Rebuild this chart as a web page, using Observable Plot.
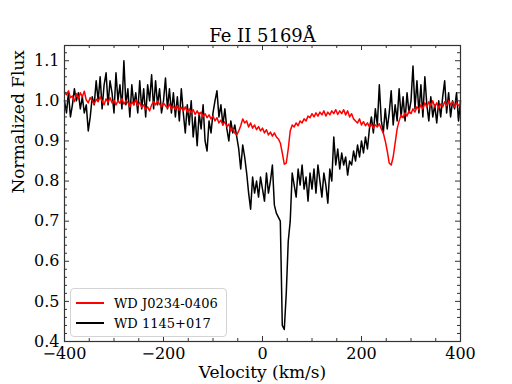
<!DOCTYPE html>
<html><head><meta charset="utf-8">
<script src="https://cdn.jsdelivr.net/npm/d3@7"></script>
<script src="https://cdn.jsdelivr.net/npm/@observablehq/plot@0.6"></script>
<style>
body{margin:0;background:#fff;}
#wrap{position:relative;width:512px;height:384px;font-family:"DejaVu Serif",serif;}
#legend{position:absolute;left:70px;top:288px;width:157px;height:49px;border:1px solid #d4d4d4;border-radius:4px;background:rgba(255,255,255,0.85);box-sizing:border-box;font-size:13px;color:#000;}
.item{position:absolute;left:5px;display:flex;align-items:center;height:16px;}
.sw{width:28px;height:2px;margin-right:10px;}
</style></head><body>
<div id="wrap"><div id="legend"></div></div>
<script>
const title = "Fe II 5169Å";
const xLabel = "Velocity (km/s)";
const yLabel = "Normalized Flux";
const seriesNames = ["WD J0234-0406", "WD 1145+017"];
const seriesColors = ["#ff0000", "#000000"];
const xTicks = [-400, -200, 0, 200, 400];
const yTicks = [0.4, 0.5, 0.6, 0.7, 0.8, 0.9, 1.0, 1.1];
const vStart = -400, vStep = 4;

// WD J0234-0406 (red), velocities -400..400 step 4
const fluxRed = [
  1.022,1.015,1.025,1.008,1.012,0.998,1.018,1.005,1.020,1.010,1.024,1.002,0.995,1.008,1.000,0.992,1.004,0.998,1.010,1.000,0.990,1.005,0.996,1.008,0.995,
  1.002,0.990,1.000,0.994,1.006,0.992,1.000,0.996,0.985,0.998,0.990,1.003,0.988,0.996,0.984,0.990,0.978,0.985,0.975,0.990,0.998,0.990,1.000,0.992,0.985,
  0.995,0.988,0.982,0.992,0.980,0.986,0.978,0.988,0.976,0.984,0.975,0.985,0.972,0.980,0.970,0.978,0.966,0.975,0.965,0.972,0.960,0.968,0.958,0.965,0.955,
  0.962,0.950,0.958,0.945,0.952,0.940,0.948,0.936,0.942,0.925,0.930,0.920,0.915,0.925,0.938,0.955,0.945,0.950,0.935,0.945,0.932,0.940,0.928,0.936,0.925,
  0.932,0.920,0.928,0.915,0.922,0.912,0.920,0.910,0.905,0.895,0.870,0.842,0.845,0.880,0.925,0.940,0.935,0.945,0.938,0.950,0.945,0.955,0.950,0.962,0.958,
  0.968,0.960,0.970,0.962,0.972,0.965,0.975,0.962,0.972,0.965,0.975,0.968,0.978,0.966,0.975,0.968,0.978,0.965,0.975,0.960,0.968,0.955,0.950,0.945,0.955,
  0.940,0.948,0.938,0.945,0.935,0.942,0.932,0.940,0.935,0.943,0.930,0.920,0.900,0.875,0.845,0.840,0.860,0.895,0.930,0.950,0.965,0.958,0.970,0.962,0.975,
  0.968,0.980,0.972,0.985,0.978,0.990,0.980,0.995,0.985,0.998,0.988,1.000,0.985,0.995,0.982,0.992,0.985,0.998,0.988,1.000,0.990,0.998,0.985,0.995,0.988,
  0.992
];

// WD 1145+017 (black), velocities -400..400 step 4
const fluxBlack = [
  1.00,0.97,1.02,0.96,0.99,1.03,1.00,1.02,0.98,1.01,0.97,0.99,0.925,0.96,1.01,0.99,1.05,1.00,1.06,0.98,1.04,1.07,0.99,1.05,1.02,
  0.97,1.07,1.00,1.04,0.98,1.10,0.99,1.03,0.96,1.04,0.99,1.02,0.97,1.05,0.98,1.03,0.96,1.04,1.00,1.065,0.98,1.05,0.99,1.03,0.97,
  1.00,1.057,0.98,1.03,0.97,1.02,0.96,1.01,0.95,1.03,0.97,0.92,0.99,0.94,1.00,0.91,0.96,0.888,0.97,0.93,0.99,0.90,0.875,0.95,0.92,
  0.97,1.00,1.025,0.96,0.99,0.94,0.98,0.93,0.90,0.95,0.92,0.94,0.91,0.88,0.83,0.89,0.86,0.82,0.77,0.73,0.81,0.77,0.80,0.76,0.81,
  0.78,0.75,0.82,0.77,0.80,0.84,0.74,0.72,0.71,0.70,0.44,0.43,0.52,0.65,0.70,0.82,0.79,0.76,0.83,0.79,0.84,0.78,0.81,0.75,0.82,
  0.78,0.83,0.77,0.84,0.80,0.76,0.82,0.79,0.745,0.83,0.80,0.91,0.84,0.88,0.83,0.87,0.84,0.86,0.815,0.85,0.84,0.875,0.85,0.89,0.86,
  0.90,0.87,0.91,0.88,0.93,0.96,0.92,0.98,0.94,1.04,0.95,0.92,0.98,0.93,0.97,1.025,0.94,0.99,0.95,1.03,0.96,1.01,0.95,1.02,0.97,
  1.00,1.087,0.98,1.05,0.97,1.04,0.96,1.06,0.99,0.95,1.01,0.96,0.99,0.945,1.00,0.96,1.01,1.05,0.97,1.02,0.96,1.00,0.98,1.02,0.95,
  1.00
];

const W = 512, H = 384;
const mL = 64, mR = 52, mT = 45, mB = 43;
const pw = W - mL - mR, ph = H - mT - mB;

const toRows = (arr, name) => arr.map((f, i) => ({v: vStart + i * vStep, f, name}));
const data = [...toRows(fluxBlack, seriesNames[1]), ...toRows(fluxRed, seriesNames[0])];

const xMinor = d3.range(-400, 401, 50).filter(d => !xTicks.includes(d));
const yMinor = d3.range(40, 114, 2).map(d => d / 100).filter(d => d % 0.1 > 0.001 && d % 0.1 < 0.099);
const fmtX = d => d < 0 ? "\u2212" + Math.abs(d) : String(d);
const tickColor = "#333";

const chart = Plot.plot({
  width: W, height: H,
  marginLeft: mL, marginRight: mR, marginTop: mT, marginBottom: mB,
  style: {fontFamily: "'DejaVu Serif', serif", fontSize: "16px", background: "white", color: "black"},
  x: {domain: [-400, 400]},
  y: {domain: [0.4, 1.138]},
  marks: [
    Plot.line(data.filter(d => d.name === seriesNames[1]), {x: "v", y: "f", stroke: seriesColors[1], strokeWidth: 1.5}),
    Plot.line(data.filter(d => d.name === seriesNames[0]), {x: "v", y: "f", stroke: seriesColors[0], strokeWidth: 1.5}),
    Plot.tickX(xTicks, {x: d => d, stroke: tickColor, insetTop: ph - 5}),
    Plot.tickX(xTicks, {x: d => d, stroke: tickColor, insetBottom: ph - 5}),
    Plot.tickX(xMinor, {x: d => d, stroke: tickColor, insetTop: ph - 3}),
    Plot.tickX(xMinor, {x: d => d, stroke: tickColor, insetBottom: ph - 3}),
    Plot.tickY(yTicks, {y: d => d, stroke: tickColor, insetRight: pw - 5}),
    Plot.tickY(yTicks, {y: d => d, stroke: tickColor, insetLeft: pw - 5}),
    Plot.tickY(yMinor, {y: d => d, stroke: tickColor, insetRight: pw - 3}),
    Plot.tickY(yMinor, {y: d => d, stroke: tickColor, insetLeft: pw - 3}),
    Plot.frame({stroke: "#333", strokeWidth: 1.2}),
    Plot.axisX({ticks: xTicks, tickSize: 0, tickPadding: 6, tickFormat: fmtX, label: null, fontSize: 16}),
    Plot.axisY({ticks: yTicks, tickSize: 0, tickPadding: 5, tickFormat: d3.format(".1f"), label: null, fontSize: 16}),
    Plot.text([title], {text: d => d, frameAnchor: "top", dy: -16, fontSize: 18}),
    Plot.text([xLabel], {text: d => d, frameAnchor: "bottom", dy: 36, fontSize: 17}),
    Plot.text([yLabel], {text: d => d, frameAnchor: "left", dx: -46, rotate: -90, fontSize: 17})
  ]
});
document.getElementById("wrap").prepend(chart);

const legend = document.getElementById("legend");
seriesNames.forEach((name, i) => {
  const item = document.createElement("div");
  item.className = "item";
  item.style.top = (6 + i * 20) + "px";
  const sw = document.createElement("span");
  sw.className = "sw";
  sw.style.background = seriesColors[i];
  const label = document.createElement("span");
  label.textContent = name;
  item.appendChild(sw);
  item.appendChild(label);
  legend.appendChild(item);
});
</script>
</body></html>
